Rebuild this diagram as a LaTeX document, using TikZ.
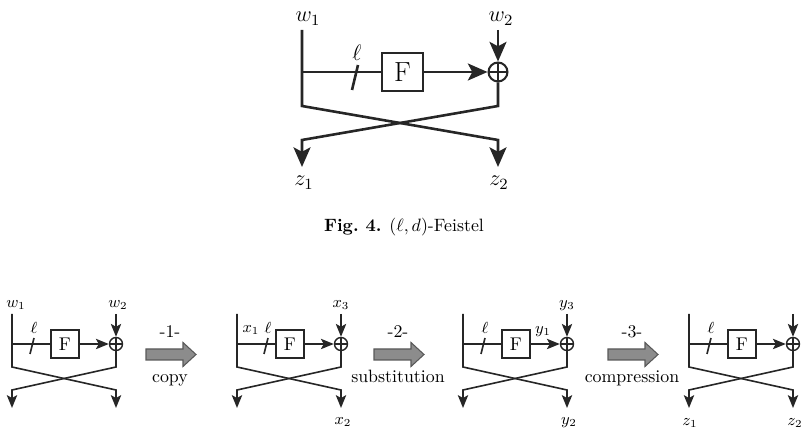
\RequirePackage{fix-cm}
\documentclass[tikz,border=0pt]{standalone}
\usepackage{amsmath}
\usetikzlibrary{arrows.meta}
\tikzset{>={Stealth[length=11pt,width=9.5pt,inset=2.5pt]}}
\tikzset{
    bigline/.style={line width=1.45pt,draw=black!85},
    smallline/.style={line width=0.9pt,draw=black!85,>={Stealth[length=7.2pt,width=5.8pt,inset=1.6pt]}},
    bigbox/.style={rectangle,draw=black!85,line width=1.15pt,minimum width=23pt,minimum height=21.8pt,inner sep=0pt,font=\fontsize{15.5}{18}\selectfont},
    smallbox/.style={rectangle,draw=black!85,line width=0.8pt,minimum size=15.7pt,inner sep=0pt,font=\fontsize{10.3}{12}\selectfont},
    xorgate/.style={circle,draw=black!85,inner sep=0pt,path picture={\draw (path picture bounding box.north) -- (path picture bounding box.south) (path picture bounding box.west) -- (path picture bounding box.east);}},
    bigxor/.style={xorgate,line width=1.15pt,minimum size=10.6pt},
    smallxor/.style={xorgate,line width=0.8pt,minimum size=7.3pt},
    biglabel/.style={inner sep=0pt,anchor=base,font=\fontsize{12.5}{15}\selectfont},
    smalllabel/.style={inner sep=0pt,anchor=base,font=\fontsize{9}{11}\selectfont},
    steptext/.style={inner sep=0pt,anchor=base,font=\fontsize{10}{12}\selectfont},
    bigarrow/.style={fill=black!45,draw=black!65,line width=0.6pt},
}
\begin{document}
\begin{tikzpicture}[x=0.56pt,y=-0.56pt]
            \useasboundingbox (0,0) rectangle (804,438);
            % the (l,d)-Feistel
            \node[biglabel] (w1) at (308,22) {$w_1$};
            \node[biglabel] (w2) at (501,22) {$w_2$};
            \node[biglabel] (z1) at (304,186) {$z_1$};
            \node[biglabel] (z2) at (499,186) {$z_2$};
            \node[bigbox] (F) at (402.5,72) {F};
            \node[bigxor] (xor) at (498,72) {};
            \node[biglabel] (ell) at (357,61) {$\ell$};
            \coordinate (l0) at (302,30);
            \coordinate (r0) at (498,30);
            \coordinate (l1) at (302,106);
            \coordinate (r1) at (498,106);
            \coordinate (l2) at (302,140);
            \coordinate (r2) at (498,140);
            \coordinate (l3) at (302,167);
            \coordinate (r3) at (498,167);
            \draw[bigline,->] (l0) -- (l1) -- (r2) -- (r3);
            \draw[bigline,->] (xor) -- (r1) -- (l2) -- (l3);
            \draw[bigline] (l0 |- F) -- (F);
            \draw[bigline,->] (F) -- (xor);
            \draw[bigline,->] (r0) -- (xor);
            \draw[bigline] (352,90) -- (358,65);
            \node[steptext] (caption) at (404,232) {\textbf{Fig.\ 4.} $(\ell,d)$-Feistel};
            % the four small ones
            \foreach \i/\x/\s in {1/12/20,2/237/29,3/463/20,4/689/20} {
                \coordinate (top\i) at (\x,314);
                \coordinate (in\i) at (\x+104,314);
                \node[smallbox] (F\i) at (\x+53,344) {F};
                \node[smallxor] (xor\i) at (\x+104,344) {};
                \coordinate (cl\i) at (\x,367);
                \coordinate (cr\i) at (\x+104,367);
                \coordinate (dl\i) at (\x,390);
                \coordinate (dr\i) at (\x+104,390);
                \coordinate (outl\i) at (\x,408);
                \coordinate (outr\i) at (\x+104,408);
                \draw[smallline,->] (top\i) -- (cl\i) -- (dr\i) -- (outr\i);
                \draw[smallline,->] (xor\i) -- (cr\i) -- (dl\i) -- (outl\i);
                \draw[smallline] (top\i |- F\i) -- (F\i);
                \draw[smallline,->] (F\i) -- (xor\i);
                \draw[smallline,->] (in\i) -- (xor\i);
                \draw[smallline] (\x+\s-2,354) -- (\x+\s+2,338);
                \node[smalllabel] (ell\i) at (\x+\s+2,334) {$\ell$};
            }
            \node[smalllabel] (sw1) at (16,308) {$w_1$};
            \node[smalllabel] (sw2) at (118,308) {$w_2$};
            \node[smalllabel] (x1) at (251,333) {$x_1$};
            \node[smalllabel] (x3) at (341,308) {$x_3$};
            \node[smalllabel] (x2) at (343,425) {$x_2$};
            \node[smalllabel] (y1) at (543,334) {$y_1$};
            \node[smalllabel] (y3) at (567,308) {$y_3$};
            \node[smalllabel] (y2) at (569,425) {$y_2$};
            \node[smalllabel] (sz1) at (690,426) {$z_1$};
            \node[smalllabel] (sz2) at (795,426) {$z_2$};
            % steps between them
            \foreach \x/\n/\t in {146/1/copy,374/2/substitution,608/3/compression} {
                \draw[bigarrow] (\x,349) -- (\x+37,349) -- (\x+37,342.5) -- (\x+50,354.5) -- (\x+37,366.5) -- (\x+37,360) -- (\x,360) -- cycle;
                \node[steptext] (num\n) at (\x+24,338) {-\n-};
                \node[steptext] (word\n) at (\x+24,383) {\t};
            }
        \end{tikzpicture}
\end{document}
